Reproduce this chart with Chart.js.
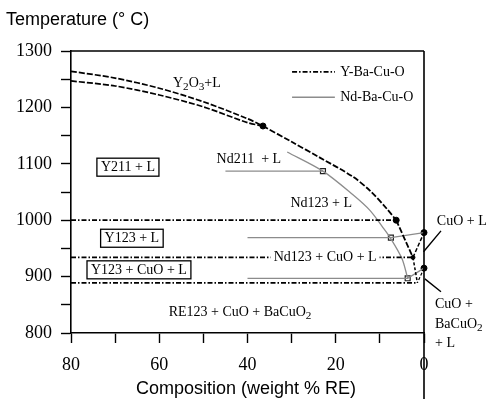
<!DOCTYPE html>
<html>
<head>
<meta charset="utf-8">
<script src="https://cdn.jsdelivr.net/npm/chart.js@4.4.1/dist/chart.umd.min.js"></script>
<style>
html, body { margin: 0; padding: 0; background: #fff; }
</style>
</head>
<body>
<canvas id="grafico" width="489" height="399"></canvas>
<script>
// Y-Ba-Cu-O liquidus (composition wt% RE, temperature C)
var yUpperComp = [80, 70, 60, 50, 40, 36.5];
var yUpperTemp = [1264, 1252, 1234, 1210, 1180, 1167];
var yLowerComp = [80, 70, 60, 50, 40, 36.5];
var yLowerTemp = [1247, 1238, 1222, 1201, 1173, 1167];
var yLiqComp = [36.5, 30, 23.6, 16.1, 12.2, 8.4, 6.3];
var yLiqTemp = [1167, 1139, 1111, 1077, 1052, 1020, 1000];
var yDropComp = [6.3, 2.5];
var yDropTemp = [1000, 934];
var yCuoComp = [2.5, 0];
var yCuoTemp = [934, 978];
var yLowComp = [2.5, 1.5];
var yLowTemp = [934, 889];
var yEdgeComp = [0, 1.5];
var yEdgeTemp = [915, 889];
// Y-Ba-Cu-O horizontal tie lines
var yTieStart = [80, 80, 80];
var yTieEnd = [6.3, 2.5, 1.5];
var yTieTemp = [1000, 934, 889];
var yDotComp = [36.5, 6.3, 0, 0, 2.5];
var yDotTemp = [1167, 1000, 978, 915, 934];

// Nd-Ba-Cu-O liquidus
var ndLiqComp = [31, 22.9, 16.1, 12.2, 9.5, 7.5, 5, 3.7];
var ndLiqTemp = [1121, 1087, 1045, 1017, 989, 967, 932, 897];
// Nd-Ba-Cu-O tie lines
var ndTieStart = [45, 40, 40];
var ndTieEnd = [22.9, 7.5, 3.7];
var ndTieTemp = [1087, 969, 897];
var ndTieEdge = [null, 978, 915];
var ndSqComp = [22.9, 7.5, 3.7];
var ndSqTemp = [1087, 969, 897];

var xTicks = [80, 60, 40, 20, 0];
var yTicks = [800, 900, 1000, 1100, 1200, 1300];

var negro = '#000';
var gris = '#8c8c8c';
var raya = [6, 2];
var rayaPunto = [5, 2, 1.5, 2];

function puntos(xs, ys) {
    return xs.map(function (x, i) { return { x: x, y: ys[i] }; });
}

function linea(data, color, dash, ancho, tension) {
    return {
        data: data,
        showLine: true,
        borderColor: color,
        borderDash: dash,
        borderWidth: ancho,
        tension: tension || 0,
        pointRadius: 0,
        clip: false
    };
}

var datasets = [];
datasets.push(linea(puntos(yUpperComp, yUpperTemp), negro, raya, 1.7, 0.3));
datasets.push(linea(puntos(yLowerComp, yLowerTemp), negro, raya, 1.7, 0.3));
datasets.push(linea(puntos(yLiqComp, yLiqTemp), negro, raya, 1.8, 0.3));
datasets.push(linea(puntos(yDropComp, yDropTemp), negro, raya, 1.8));
datasets.push(linea(puntos(yCuoComp, yCuoTemp), negro, [4, 2], 1.5));
datasets.push(linea(puntos(yLowComp, yLowTemp), negro, [3, 2], 1.5));
datasets.push(linea(puntos(yEdgeComp, yEdgeTemp), negro, [3, 2], 1.2));
for (var i = 0; i < yTieTemp.length; i++) {
    datasets.push(linea(puntos([yTieStart[i], yTieEnd[i]], [yTieTemp[i], yTieTemp[i]]), negro, rayaPunto, 1.7));
}
datasets.push(linea(puntos(ndLiqComp, ndLiqTemp), gris, [], 1.3, 0.3));
for (var j = 0; j < ndTieTemp.length; j++) {
    var cx = [ndTieStart[j], ndTieEnd[j]], cy = [ndTieTemp[j], ndTieTemp[j]];
    if (ndTieEdge[j] !== null) { cx.push(0); cy.push(ndTieEdge[j]); }
    datasets.push(linea(puntos(cx, cy), gris, [], 1.3));
}
datasets.push({
    data: puntos(yDotComp, yDotTemp),
    showLine: false,
    pointRadius: [3, 3, 3, 3, 2],
    pointBackgroundColor: negro,
    pointBorderColor: negro,
    clip: false
});
datasets.push({
    data: puntos(ndSqComp, ndSqTemp),
    showLine: false,
    pointStyle: 'rect',
    pointRadius: 3.5,
    pointBackgroundColor: '#fff',
    pointBorderColor: '#222',
    pointBorderWidth: 1.2,
    clip: false
});

// texto con subindices: partes [texto, esSub]
function texto(ctx, partes, x, y, tam, alin) {
    var total = 0;
    partes.forEach(function (p) {
        ctx.font = (p[1] ? tam * 0.8 : tam) + 'px "Liberation Serif"';
        total += ctx.measureText(p[0]).width;
    });
    var cx = alin === 'center' ? x - total / 2 : x;
    ctx.textAlign = 'left';
    ctx.textBaseline = 'middle';
    partes.forEach(function (p) {
        ctx.font = (p[1] ? tam * 0.8 : tam) + 'px "Liberation Serif"';
        ctx.fillText(p[0], cx, p[1] ? y + 4 : y);
        cx += ctx.measureText(p[0]).width;
    });
    return total;
}

var anotaciones = {
    id: 'anotaciones',
    afterDraw: function (chart) {
        var ctx = chart.ctx, sx = chart.scales.x, sy = chart.scales.y;
        var X = function (v) { return sx.getPixelForValue(v); };
        var Y = function (v) { return sy.getPixelForValue(v); };
        ctx.save();
        ctx.fillStyle = negro;
        ctx.strokeStyle = negro;

        // marco superior y derecho
        ctx.lineWidth = 1.6;
        ctx.beginPath();
        ctx.moveTo(X(80), Y(1300)); ctx.lineTo(X(0), Y(1300));
        ctx.moveTo(X(0), Y(1300)); ctx.lineTo(X(0), chart.height);
        ctx.stroke();

        // leyenda
        ctx.lineWidth = 1.6;
        ctx.setLineDash(rayaPunto);
        ctx.beginPath(); ctx.moveTo(X(29.9), Y(1263)); ctx.lineTo(X(20.2), Y(1263)); ctx.stroke();
        ctx.setLineDash([]);
        ctx.strokeStyle = gris; ctx.lineWidth = 1.3;
        ctx.beginPath(); ctx.moveTo(X(29.9), Y(1218)); ctx.lineTo(X(20.2), Y(1218)); ctx.stroke();
        ctx.strokeStyle = negro;
        texto(ctx, [['Y-Ba-Cu-O', false]], X(19), Y(1263), 14, 'left');
        texto(ctx, [['Nd-Ba-Cu-O', false]], X(19), Y(1218), 14, 'left');

        // etiquetas de regiones
        texto(ctx, [['Y', false], ['2', true], ['O', false], ['3', true], ['+L', false]], X(56.9), Y(1243), 14, 'left');
        texto(ctx, [['Nd211  + L', false]], X(39.7), Y(1108), 14, 'center');
        texto(ctx, [['Nd123 + L', false]], X(23.3), Y(1030), 14, 'center');
        ctx.font = '14px "Liberation Serif"';
        var w = ctx.measureText('Nd123 + CuO + L').width;
        ctx.fillStyle = '#fff';
        ctx.fillRect(X(22.4) - w / 2 - 3, Y(934) - 7, w + 6, 14);
        ctx.fillStyle = negro;
        texto(ctx, [['Nd123 + CuO + L', false]], X(22.4), Y(934), 14, 'center');
        texto(ctx, [['RE123 + CuO + BaCuO', false], ['2', true]], X(41.7), Y(837), 14, 'center');

        // etiquetas en recuadro
        var cajas = [['Y211 + L', 67.1, 1094], ['Y123 + L', 66.2, 968], ['Y123 + CuO + L', 64.6, 912]];
        ctx.lineWidth = 1.3;
        cajas.forEach(function (c) {
            var ww = texto(ctx, [[c[0], false]], X(c[1]), Y(c[2]), 14, 'center');
            ctx.strokeRect(X(c[1]) - ww / 2 - 4, Y(c[2]) - 9, ww + 8, 18);
        });

        // etiquetas a la derecha
        texto(ctx, [['CuO + L', false]], X(-2.9), Y(998), 14, 'left');
        texto(ctx, [['CuO +', false]], X(-2.5), Y(850), 14, 'left');
        texto(ctx, [['BaCuO', false], ['2', true]], X(-2.5), Y(816), 14, 'left');
        texto(ctx, [['+ L', false]], X(-2.5), Y(782), 14, 'left');
        ctx.lineWidth = 1.4;
        ctx.beginPath();
        ctx.moveTo(X(-3.85), Y(981)); ctx.lineTo(X(0.1), Y(944));
        ctx.moveTo(X(-0.2), Y(896)); ctx.lineTo(X(-3.85), Y(873));
        ctx.stroke();

        // titulos de ejes
        ctx.font = '18px "Liberation Sans"';
        ctx.textAlign = 'left';
        ctx.textBaseline = 'middle';
        ctx.fillText('Temperature (\u00B0 C)', 6, 20);
        ctx.textAlign = 'center';
        ctx.fillText('Composition (weight % RE)', 246, 389);
        ctx.restore();
    }
};

var ctx1 = document.getElementById('grafico').getContext('2d');
window.diagrama = new Chart(ctx1, {
    type: 'scatter',
    data: { datasets: datasets },
    plugins: [anotaciones],
    options: {
        responsive: false,
        animation: false,
        layout: { padding: { left: 0, top: 51, right: 65, bottom: 0 } },
        plugins: { legend: { display: false }, tooltip: { enabled: false } },
        scales: {
            x: {
                type: 'linear',
                reverse: true,
                min: 0,
                max: 80,
                afterFit: function (s) { s.height = 66; },
                border: { display: true, color: negro, width: 1.6 },
                grid: { drawOnChartArea: false, tickLength: 10, color: negro, tickWidth: 1.4 },
                ticks: {
                    stepSize: 10,
                    padding: 11,
                    color: negro,
                    font: { family: 'Liberation Serif', size: 18 },
                    callback: function (v) { return xTicks.indexOf(v) >= 0 ? String(v) : ''; }
                }
            },
            y: {
                type: 'linear',
                min: 800,
                max: 1300,
                afterFit: function (s) { s.width = 71; },
                border: { display: true, color: negro, width: 1.6 },
                grid: { drawOnChartArea: false, tickLength: 10, color: negro, tickWidth: 1.4 },
                ticks: {
                    stepSize: 50,
                    padding: 9,
                    color: negro,
                    font: { family: 'Liberation Serif', size: 18 },
                    callback: function (v) { return yTicks.indexOf(v) >= 0 ? String(v) : ''; }
                }
            }
        }
    }
});
</script>
</body>
</html>
